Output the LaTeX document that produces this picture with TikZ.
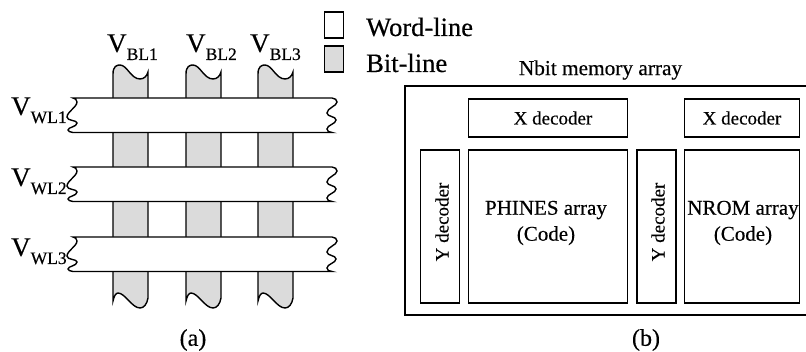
\documentclass[tikz,border=0pt]{standalone}
\usepackage{fontspec}
\setmainfont{Liberation Serif}[FakeBold=0.4]
\newcommand{\VL}[2]{\fontsize{27}{27}\selectfont V\raisebox{-8pt}{\fontsize{17.5}{18}\selectfont #1#2}}
\newcommand{\bitline}[1]{
    \draw[line] (#1,78) -- (#1,74) .. controls (#1,66) and (#1+4,65) .. (#1+7,65) .. controls (#1+14,65) and (#1+18,79) .. (#1+27,79)
        .. controls (#1+31,79) and (#1+34,76) .. (#1+35,72)
        -- (#1+35,298) .. controls (#1+34,304) and (#1+31,308) .. (#1+27,308) .. controls (#1+19,308) and (#1+12,293) .. (#1+5,293)
        .. controls (#1+3,293) and (#1+1,296) .. (#1,301) -- cycle;
}
\newcommand{\wordline}[1]{
    \draw[line,fill=white] (73,#1) -- (332,#1)
        .. controls (335,#1) and (337,#1+2) .. (337,#1+4) .. controls (337,#1+8) and (327,#1+10) .. (327,#1+15)
        .. controls (327,#1+19) and (336,#1+18) .. (336,#1+22) .. controls (336,#1+26) and (327,#1+27) .. (327,#1+31)
        .. controls (327,#1+33) and (329,#1+34.5) .. (332,#1+34.5)
        -- (73,#1+34.5)
        .. controls (70,#1+34.5) and (68,#1+33) .. (68,#1+32) .. controls (68,#1+29) and (77,#1+29) .. (77,#1+25)
        .. controls (77,#1+22) and (67,#1+23) .. (67,#1+19) .. controls (67,#1+14) and (77,#1+9) .. (77,#1+4)
        .. controls (77,#1+2) and (75,#1) .. (73,#1) -- cycle;
}
\begin{document}
\begin{tikzpicture}
    [
        x=1pt, y=-1pt,
        line/.style = {draw, line width=1.4pt, fill=bitgray},
        box/.style = {draw, shape=rectangle, line width=1.4pt, inner sep=0pt, align=center, font=\fontsize{19}{23}\selectfont},
        label/.style = {inner sep=0pt, anchor=base west},
    ]
    \definecolor{bitgray}{gray}{0.86}
    \useasboundingbox (0,0) rectangle (806,352);

    \bitline{113}
    \bitline{186}
    \bitline{258}

    \wordline{98}
    \wordline{167}
    \wordline{237}

    \node[label] (bl1) at (107,52) {\VL{BL}{1}};
    \node[label] (bl2) at (186,52) {\VL{BL}{2}};
    \node[label] (bl3) at (250,52) {\VL{BL}{3}};

    \node[label] (wl1) at (11,115) {\VL{WL}{1}};
    \node[label] (wl2) at (11,186) {\VL{WL}{2}};
    \node[label] (wl3) at (11,256) {\VL{WL}{3}};

    \node[box, minimum width=19pt, minimum height=26pt] (wordkey) at (334,25) {};
    \node[box, fill=bitgray, minimum width=19pt, minimum height=26pt] (bitkey) at (334,59) {};
    \node[label, font=\fontsize{26.5}{26}\selectfont] (wordtext) at (366,36) {Word-line};
    \node[label, font=\fontsize{26.5}{26}\selectfont] (bittext) at (366,72) {Bit-line};

    \node[font=\fontsize{21.3}{21}\selectfont] (title) at (600.5,70) {Nbit memory array};
    \node[draw, line width=1.4pt, minimum width=410pt, minimum height=229pt, inner sep=0pt] (outer) at (610,200.5) {};

    \node[box, minimum width=159.5pt, minimum height=38pt] (xdec0) at (548,118) {\hspace{10pt}X decoder};
    \node[box, minimum width=114.5pt, minimum height=38pt] (xdec1) at (742,118) {X decoder};
    \node[box, minimum width=39pt, minimum height=153pt] (ydec0) at (440,226.5) {};
    \node[box, minimum width=39pt, minimum height=153pt] (ydec1) at (656.5,226.5) {};
    \node[box, minimum width=159.5pt, minimum height=153pt] (phines) at (548,226.5) {};
    \node[box, minimum width=114.5pt, minimum height=153pt] (nrom) at (742,226.5) {};

    \node[rotate=90, font=\fontsize{19}{19}\selectfont] (ytext0) at (442,222) {Y decoder};
    \node[rotate=90, font=\fontsize{19}{19}\selectfont] (ytext1) at (658,222) {Y decoder};
    \node[align=center, font=\fontsize{21}{26}\selectfont] (phinestext) at (546,223) {PHINES array\\(Code)};
    \node[align=center, font=\fontsize{21}{26}\selectfont] (nromtext) at (743,223) {NROM array\\(Code)};

    \node[font=\fontsize{24}{24}\selectfont] (capa) at (193,340) {(a)};
    \node[font=\fontsize{24}{24}\selectfont] (capb) at (646,340) {(b)};
\end{tikzpicture}
\end{document}
